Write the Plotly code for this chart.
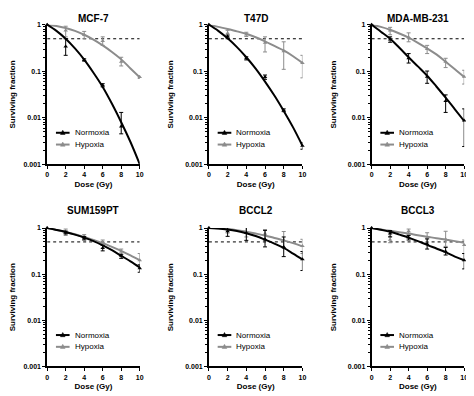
import plotly.graph_objects as go

# ---------------- data ----------------
cell_lines = ["MCF-7", "T47D", "MDA-MB-231", "SUM159PT", "BCCL2", "BCCL3"]
doses = [0, 2, 4, 6, 8, 10]
fit_doses = [0, 1, 2, 3, 4, 5, 6, 7, 8, 9, 10]
half_level = 0.5
series_names = ["Normoxia", "Hypoxia"]

# MCF-7
mcf7_norm = [1, 0.34, 0.175, 0.05, 0.0065, None]
mcf7_norm_up = [0, 0.16, 0.01, 0.004, 0.0065, 0]
mcf7_norm_dn = [0, 0.12, 0.01, 0.004, 0.002, 0]
mcf7_norm_fit = [1, 0.74, 0.5, 0.31, 0.178, 0.093, 0.046, 0.020, 0.0080, 0.0030, 0.001]
mcf7_hyp = [1, 0.75, 0.6, 0.45, 0.16, 0.075]
mcf7_hyp_up = [0, 0.18, 0.12, 0.1, 0.04, 0.005]
mcf7_hyp_dn = [0, 0.2, 0.1, 0.09, 0.03, 0.005]
mcf7_hyp_fit = [1, 0.94, 0.85, 0.74, 0.61, 0.48, 0.36, 0.26, 0.18, 0.115, 0.074]

# T47D
t47d_norm = [1, 0.55, 0.19, 0.075, 0.0145, 0.0025]
t47d_norm_up = [0, 0.05, 0.015, 0.008, 0.001, 0.0004]
t47d_norm_dn = [0, 0.05, 0.015, 0.008, 0.001, 0.0004]
t47d_norm_fit = [1, 0.74, 0.51, 0.33, 0.20, 0.114, 0.060, 0.030, 0.014, 0.0062, 0.0025]
t47d_hyp = [1, 0.66, 0.62, 0.41, 0.27, 0.15]
t47d_hyp_up = [0, 0.1, 0.07, 0.14, 0.16, 0.07]
t47d_hyp_dn = [0, 0.1, 0.06, 0.15, 0.16, 0.078]
t47d_hyp_fit = [1, 0.9, 0.81, 0.72, 0.64, 0.54, 0.44, 0.35, 0.28, 0.21, 0.15]

# MDA-MB-231
mda_norm = [1, 0.48, 0.19, 0.076, 0.023, 0.0087]
mda_norm_up = [0, 0.07, 0.05, 0.025, 0.008, 0.0068]
mda_norm_dn = [0, 0.06, 0.04, 0.021, 0.01, 0.0063]
mda_norm_fit = [1, 0.71, 0.5, 0.32, 0.2, 0.127, 0.08, 0.047, 0.027, 0.0152, 0.0085]
mda_hyp = [1, 0.75, 0.54, 0.30, 0.16, 0.076]
mda_hyp_up = [0, 0.13, 0.13, 0.06, 0.03, 0.029]
mda_hyp_dn = [0, 0.14, 0.11, 0.06, 0.04, 0.023]
mda_hyp_fit = [1, 0.9, 0.78, 0.65, 0.53, 0.41, 0.31, 0.23, 0.16, 0.11, 0.075]

# SUM159PT
sum_norm = [1, 0.8, 0.6, 0.37, 0.25, 0.135]
sum_norm_up = [0, 0.06, 0.05, 0.05, 0.02, 0.025]
sum_norm_dn = [0, 0.06, 0.05, 0.05, 0.03, 0.025]
sum_norm_fit = [1, 0.91, 0.82, 0.72, 0.62, 0.52, 0.42, 0.33, 0.25, 0.19, 0.14]
sum_hyp = [1, 0.78, 0.66, 0.5, 0.31, 0.2]
sum_hyp_up = [0, 0.17, 0.06, 0.05, 0.04, 0.08]
sum_hyp_dn = [0, 0.09, 0.08, 0.05, 0.04, 0.05]
sum_hyp_fit = [1, 0.91, 0.82, 0.73, 0.64, 0.55, 0.47, 0.39, 0.32, 0.255, 0.2]

# BCCL2
bccl2_norm = [1, 0.85, 0.78, 0.57, 0.39, 0.21]
bccl2_norm_up = [0, 0.2, 0.27, 0.32, 0.25, 0.1]
bccl2_norm_dn = [0, 0.19, 0.24, 0.18, 0.15, 0.09]
bccl2_norm_fit = [1, 0.98, 0.93, 0.86, 0.77, 0.67, 0.56, 0.46, 0.37, 0.28, 0.21]
bccl2_hyp = [1, 0.92, 0.82, 0.75, 0.54, 0.41]
bccl2_hyp_up = [0, 0.18, 0.23, 0.17, 0.3, 0.16]
bccl2_hyp_dn = [0, 0.14, 0.18, 0.21, 0.18, 0.13]
bccl2_hyp_fit = [1, 0.98, 0.95, 0.9, 0.83, 0.76, 0.69, 0.61, 0.54, 0.47, 0.4]

# BCCL3
bccl3_norm = [1, 0.76, 0.62, 0.45, 0.31, 0.2]
bccl3_norm_up = [0, 0.12, 0.07, 0.13, 0.07, 0.08]
bccl3_norm_dn = [0, 0.12, 0.07, 0.1, 0.05, 0.07]
bccl3_norm_fit = [1, 0.92, 0.83, 0.72, 0.62, 0.52, 0.43, 0.36, 0.3, 0.24, 0.2]
bccl3_hyp = [1, 0.56, 0.85, 0.62, 0.57, 0.43]
bccl3_hyp_up = [0, 0.1, 0.1, 0.17, 0.28, 0.12]
bccl3_hyp_dn = [0, 0.08, 0.12, 0.14, 0.17, 0.15]
bccl3_hyp_fit = [1, 0.93, 0.87, 0.81, 0.76, 0.7, 0.65, 0.6, 0.56, 0.52, 0.48]

y_tickvals = [0.001, 0.01, 0.1, 1]
y_ticktext = ["0.001", "0.01", "0.1", "1"]
x_tickvals = [0, 2, 4, 6, 8, 10]

panels = [
    (mcf7_norm, mcf7_norm_up, mcf7_norm_dn, mcf7_norm_fit, mcf7_hyp, mcf7_hyp_up, mcf7_hyp_dn, mcf7_hyp_fit),
    (t47d_norm, t47d_norm_up, t47d_norm_dn, t47d_norm_fit, t47d_hyp, t47d_hyp_up, t47d_hyp_dn, t47d_hyp_fit),
    (mda_norm, mda_norm_up, mda_norm_dn, mda_norm_fit, mda_hyp, mda_hyp_up, mda_hyp_dn, mda_hyp_fit),
    (sum_norm, sum_norm_up, sum_norm_dn, sum_norm_fit, sum_hyp, sum_hyp_up, sum_hyp_dn, sum_hyp_fit),
    (bccl2_norm, bccl2_norm_up, bccl2_norm_dn, bccl2_norm_fit, bccl2_hyp, bccl2_hyp_up, bccl2_hyp_dn, bccl2_hyp_fit),
    (bccl3_norm, bccl3_norm_up, bccl3_norm_dn, bccl3_norm_fit, bccl3_hyp, bccl3_hyp_up, bccl3_hyp_dn, bccl3_hyp_fit),
]

# ---------------- layout geometry (screen pixels of the target) ----------------
OFFX, OFFY = 8, 9               # page offset of the plot div
W, H = 474 - OFFX, 396 - OFFY   # figure size
col_px = [(40, 135), (206, 302), (373, 468)]
row_px = [(22, 164), (229, 370)]
title_y_px = [None, 211]        # top-row titles sit at the very top of the figure


def fx(px):
    return (px - OFFX) / W


def fy(py):
    return 1 - (py - OFFY) / H


BLACK = "#000000"
GREY = "#8c8c8c"
FONT = "Liberation Sans, Arial, sans-serif"

minor_vals = [m * 10 ** e for e in (-3, -2, -1) for m in range(2, 10)]

fig = go.Figure()
annotations = []
shapes = []
layout_axes = {}

for i, (name, data) in enumerate(zip(cell_lines, panels)):
    r, c = divmod(i, 3)
    n = i + 1
    xa = "x" if n == 1 else f"x{n}"
    ya = "y" if n == 1 else f"y{n}"
    nv, nu, nd, nf, hv, hu, hd, hf = data

    # dotted 50% line
    fig.add_trace(go.Scatter(
        x=[doses[0], doses[-1]], y=[half_level, half_level], mode="lines",
        line=dict(color=BLACK, width=1, dash="dot"), showlegend=False,
        xaxis=xa, yaxis=ya, hoverinfo="skip"))

    for vals, up, dn, fit, col in (
        (hv, hu, hd, hf, GREY),
        (nv, nu, nd, nf, BLACK),
    ):
        fig.add_trace(go.Scatter(
            x=fit_doses, y=fit, mode="lines", line=dict(color=col, width=2, shape="spline"),
            showlegend=False, xaxis=xa, yaxis=ya, cliponaxis=False))
        fig.add_trace(go.Scatter(
            x=doses, y=vals, mode="markers",
            marker=dict(symbol="triangle-up", size=4, color=col),
            error_y=dict(type="data", array=up, arrayminus=dn, symmetric=False,
                         color=col, thickness=1, width=2),
            showlegend=False, xaxis=xa, yaxis=ya, cliponaxis=False))

    x0, x1 = col_px[c]
    y0, y1 = row_px[r]

    axis_common = dict(
        showline=True, linecolor=BLACK, linewidth=1.6, ticks="outside",
        ticklen=3, tickwidth=1.4, tickcolor=BLACK, showgrid=False, zeroline=False,
        tickfont=dict(family=FONT, size=7, color=BLACK, weight="bold"),
        title_font=dict(family=FONT, size=8, color=BLACK, weight="bold"),
    )
    layout_axes["xaxis" if n == 1 else f"xaxis{n}"] = dict(
        axis_common, domain=[fx(x0), fx(x1)], anchor=ya, range=[0, 10],
        tickvals=x_tickvals, title=dict(text="Dose (Gy)", standoff=4))
    layout_axes["yaxis" if n == 1 else f"yaxis{n}"] = dict(
        axis_common, domain=[fy(y1), fy(y0)], anchor=xa, type="log", range=[-3, 0],
        tickvals=y_tickvals, ticktext=y_ticktext,
        minor=dict(tickvals=minor_vals, ticks="outside", ticklen=2, tickwidth=1, tickcolor=BLACK),
        title=dict(text="Surviving fraction", standoff=10))

    # legend (line sample + triangle + label) at the lower left of each panel
    for k, (label, col) in enumerate(zip(series_names, (BLACK, GREY))):
        ly = y1 - 32 + 12 * k
        shapes.append(dict(type="line", xref="paper", yref="paper",
                           x0=fx(x0 + 9), x1=fx(x0 + 23), y0=fy(ly), y1=fy(ly),
                           line=dict(color=col, width=2)))
        cx = x0 + 16
        tri = (f"M {fx(cx - 2.4)},{fy(ly + 1.7)} L {fx(cx + 2.4)},{fy(ly + 1.7)} "
               f"L {fx(cx)},{fy(ly - 2.6)} Z")
        shapes.append(dict(type="path", xref="paper", yref="paper", path=tri,
                           fillcolor=col, line=dict(color=col, width=0.5)))
        annotations.append(dict(
            text=label, x=fx(x0 + 26), y=fy(ly), xref="paper", yref="paper",
            showarrow=False, xanchor="left", yanchor="middle",
            font=dict(family=FONT, size=8, color=BLACK)))

    if title_y_px[r] is None:
        ty, tanchor = 1, "top"
    else:
        ty, tanchor = fy(title_y_px[r]), "middle"
    annotations.append(dict(
        text=name, x=fx((x0 + x1) / 2), y=ty, xref="paper", yref="paper",
        showarrow=False, xanchor="center", yanchor=tanchor, borderpad=0,
        font=dict(family=FONT, size=10, color=BLACK, weight="bold")))

fig.update_layout(
    width=W, height=H, margin=dict(l=0, r=0, t=0, b=0),
    paper_bgcolor="white", plot_bgcolor="white", showlegend=False,
    annotations=annotations, shapes=shapes, **layout_axes)

fig.write_html("out.html")
